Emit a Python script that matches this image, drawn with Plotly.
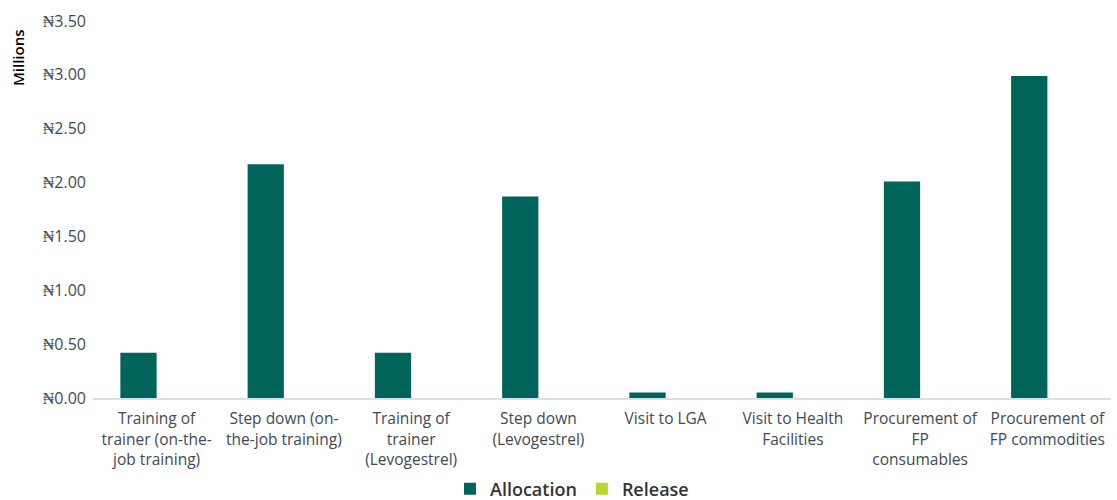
import plotly.graph_objects as go

categories = [
    "Training of<br>trainer (on-the-<br>job training)",
    "Step down (on-<br>the-job training)",
    "Training of<br>trainer<br>(Levogestrel)",
    "Step down<br>(Levogestrel)",
    "Visit to LGA",
    "Visit to Health<br>Facilities",
    "Procurement of<br>FP<br>consumables",
    "Procurement of<br>FP commodities",
]
allocation = [0.42, 2.17, 0.42, 1.87, 0.05, 0.05, 2.01, 2.99]
release = [0, 0, 0, 0, 0, 0, 0, 0]

FONT = "Open Sans"
TXT = "#404a54"

fig = go.Figure()
fig.add_trace(go.Bar(name="Allocation", x=categories, y=allocation,
                     marker=dict(color="#00645a", line=dict(width=0))))
fig.add_trace(go.Bar(name="Release", x=categories, y=release,
                     marker=dict(color="#bcd631", line=dict(width=0))))

L, R, T, B = 93, 6, 21, 102
plot_h = 500 - T - B
plot_w = 1117 - L - R

fig.update_layout(
    width=1117, height=500,
    margin=dict(l=L, r=R, t=T, b=B, autoexpand=False),
    plot_bgcolor="white", paper_bgcolor="white",
    barmode="group", bargap=0.43, bargroupgap=0,
    font=dict(family=FONT, color=TXT, size=15),
    legend=dict(orientation="h", x=(572 - L) / plot_w, xanchor="center",
                y=-91 / plot_h, yanchor="middle",
                font=dict(size=18, color="#333333", weight=600), itemwidth=30,
                traceorder="normal"),
    xaxis=dict(showline=True, linecolor="#d6e1f0", linewidth=1.5, showgrid=False,
               ticks="", automargin=False, ticklabelstandoff=6,
               tickfont=dict(size=15.5, color=TXT)),
    yaxis=dict(range=[0, 3.5], dtick=0.5, tickprefix="₦", tickformat=".2f",
               showgrid=False, zeroline=False, showline=False, ticks="",
               automargin=False, ticklabelstandoff=6,
               tickfont=dict(size=16, color=TXT)),
    annotations=[dict(text="Millions", textangle=-90,
                      x=(18 - L) / plot_w, y=(500 - B - 58) / plot_h,
                      xref="paper", yref="paper", xanchor="center", yanchor="middle",
                      showarrow=False, font=dict(size=15, color="#000000", weight=600))],
)

fig.write_html("out.html", config={"displayModeBar": False},
               post_script="document.body.style.margin='0';document.body.style.overflow='hidden';")
